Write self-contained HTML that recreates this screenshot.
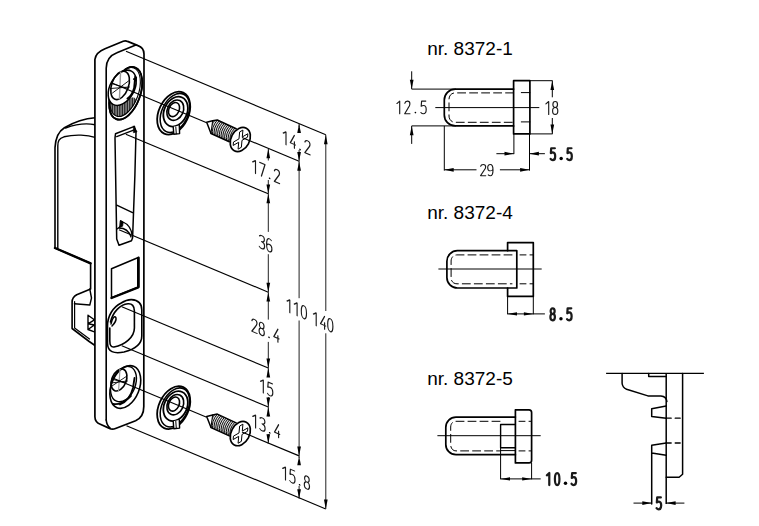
<!DOCTYPE html>
<html><head><meta charset="utf-8"><style>
html,body{margin:0;padding:0;background:#fff;}
svg{display:block;}
.lbl{font-family:"Liberation Sans",sans-serif;font-size:17.5px;fill:#000;}
</style></head><body>
<svg width="759" height="526" viewBox="0 0 759 526">
<rect width="759" height="526" fill="#fff"/>
<path d="M95,117.8 C86,118.4 74,122.2 64.4,127.7 C59,131 55.6,137 55,147.6 L55,248 L90.6,263.3 L90.6,289 L76.7,294.7 C73.5,296.5 72.1,299 72.1,302 L72.1,328.5 L89.2,341.5 L95,345.5" fill="#fff" stroke="#000" stroke-width="1.6" stroke-linejoin="round" stroke-linecap="round" /><path d="M95,124.8 C88,123.3 77,123.8 65.5,128" fill="none" stroke="#000" stroke-width="1.4" stroke-linejoin="round" stroke-linecap="round" /><path d="M95,137.4 C88,135 75,134 64,136.8 C59,138.5 57.8,141 57.8,146 L57.8,248" fill="none" stroke="#000" stroke-width="1.4" stroke-linejoin="round" stroke-linecap="round" /><path d="M55,248 L90.6,263.3" fill="none" stroke="#000" stroke-width="2.4" stroke-linejoin="round" stroke-linecap="round" /><path d="M74.6,301.5 L74.6,328 L89.5,339" fill="none" stroke="#000" stroke-width="1.2" stroke-linejoin="round" stroke-linecap="round" /><path d="M74.4,303.8 L89.8,305 L91.5,298 L89.8,289" fill="none" stroke="#000" stroke-width="1.4" stroke-linejoin="round" stroke-linecap="round" /><path d="M88,315.3 L94.4,319.8 L88,323.8 L94.4,325 L88,329.5 L94.4,331.8 M88,315.3 L88,329.5" fill="none" stroke="#000" stroke-width="1.4" stroke-linejoin="round" stroke-linecap="round" /><path d="M94.9,59.5 L94.9,416.7 C95,420.5 97,423 100.3,424.3 L109.5,428.4 C111.5,429.4 113.5,429.3 115.5,428.5 L135.6,420.7 C140.5,418.5 143.8,413 143.8,406.4 L144,54 C144,50 142,47 138,45.6 L127.6,41.4 C126.3,40.8 124.6,40.7 123.2,41.3 L105,48.8 C99,51.2 95.5,54.5 94.9,59.5 Z" fill="#fff" stroke="#000" stroke-width="1.7" stroke-linejoin="round" stroke-linecap="round" /><path d="M106.2,420 L106.2,68.2 C106.3,62 108.5,56 116.9,52.8 L135.8,45.0" fill="none" stroke="#000" stroke-width="1.6" stroke-linejoin="round" stroke-linecap="round" /><path d="M106.2,420 C106.6,424 108,426.5 110,427.8" fill="none" stroke="#000" stroke-width="1.6" stroke-linejoin="round" stroke-linecap="round" /><ellipse cx="125.7" cy="93.3" rx="14.5" ry="27.5" transform="rotate(20 125.7 93.3)" fill="#fff" stroke="#000" stroke-width="1.7" /><clipPath id="hu0"><ellipse cx="125.7" cy="93.3" rx="14.5" ry="27.5" transform="rotate(20 125.7 93.3)"/></clipPath><clipPath id="hu1"><polygon points="100,99 134,97.5 141,104 141,130 100,130"/></clipPath><clipPath id="hu2"><ellipse cx="125.1" cy="92.0" rx="13.3" ry="25.6" transform="rotate(20 125.1 92.0)"/></clipPath><g clip-path="url(#hu2)"><g clip-path="url(#hu1)"><rect x="105" y="70" width="40" height="55" fill="#8a8a8a"/><line x1="109.8" y1="70" x2="109.8" y2="125" stroke="#000" stroke-width="0.9"/><line x1="112.3" y1="70" x2="112.3" y2="125" stroke="#000" stroke-width="0.9"/><line x1="114.8" y1="70" x2="114.8" y2="125" stroke="#000" stroke-width="0.9"/><line x1="117.3" y1="70" x2="117.3" y2="125" stroke="#000" stroke-width="0.9"/><line x1="119.8" y1="70" x2="119.8" y2="125" stroke="#000" stroke-width="0.9"/><line x1="122.3" y1="70" x2="122.3" y2="125" stroke="#000" stroke-width="0.9"/><line x1="124.8" y1="70" x2="124.8" y2="125" stroke="#000" stroke-width="0.9"/><line x1="127.3" y1="70" x2="127.3" y2="125" stroke="#000" stroke-width="0.9"/><line x1="129.8" y1="70" x2="129.8" y2="125" stroke="#000" stroke-width="0.9"/><line x1="132.3" y1="70" x2="132.3" y2="125" stroke="#000" stroke-width="0.9"/><line x1="134.8" y1="70" x2="134.8" y2="125" stroke="#000" stroke-width="0.9"/><line x1="137.3" y1="70" x2="137.3" y2="125" stroke="#000" stroke-width="0.9"/><line x1="139.8" y1="70" x2="139.8" y2="125" stroke="#000" stroke-width="0.9"/><line x1="142.3" y1="70" x2="142.3" y2="125" stroke="#000" stroke-width="0.9"/></g></g><ellipse cx="125.7" cy="93.3" rx="14.5" ry="27.5" transform="rotate(20 125.7 93.3)" fill="none" stroke="#000" stroke-width="1.7" /><ellipse cx="125.1" cy="92.0" rx="13.3" ry="25.6" transform="rotate(20 125.1 92.0)" fill="none" stroke="#000" stroke-width="1.1" /><ellipse cx="122.2" cy="87.8" rx="12.1" ry="19.0" transform="rotate(29 122.2 87.8)" fill="#fff" stroke="#000" stroke-width="1.5" /><ellipse cx="120.1" cy="85.35" rx="8.4" ry="14.85" transform="rotate(20 120.1 85.35)" fill="none" stroke="#000" stroke-width="1.6" /><line x1="120.6" y1="71.5" x2="119.4" y2="99.5" stroke="#999" stroke-width="1.4"/><path d="M111.5,83.5 L128,88.5 M112.5,93 L128.5,81 M110.5,88.5 L129.5,87" fill="none" stroke="#000" stroke-width="0.9" stroke-linejoin="round" stroke-linecap="round" /><path d="M135.3,76.5 L134.2,88 C132.5,94 130,97 127.5,98.5" fill="none" stroke="#000" stroke-width="2.0" stroke-linejoin="round" stroke-linecap="round" /><path d="M133.5,79 L136.5,77.5 L136,81 Z" fill="#000" stroke="#000" stroke-width="1.2" stroke-linejoin="round" stroke-linecap="round" /><path d="M115.5,133.8 L134.4,126.4 L136,132.1 L134.9,175 L132.6,237.8 L131.5,240.7 L119,245.2 L116.7,239 L115,137.8 Z" fill="none" stroke="#000" stroke-width="1.5" stroke-linejoin="round" stroke-linecap="round" /><path d="M116.7,136.7 L135.5,129.3" fill="none" stroke="#000" stroke-width="1.3" stroke-linejoin="round" stroke-linecap="round" /><path d="M133.6,126.2 L137,131.8 L133.8,132.6 Z" fill="#000" stroke="#000" stroke-width="0.8" stroke-linejoin="round" stroke-linecap="round" /><path d="M116.7,205.2 L132.6,212.6" fill="none" stroke="#000" stroke-width="1.4" stroke-linejoin="round" stroke-linecap="round" /><path d="M117,229 L121,226 L120.7,220.7 L123,222 C128,224 131.5,229 132.3,236 M119,228 C124,228 129,231 131,237" fill="none" stroke="#000" stroke-width="1.3" stroke-linejoin="round" stroke-linecap="round" /><path d="M120.6,220.8 L123.2,222.3 L122.6,226.2 L119.8,227.2 Z" fill="#000" stroke="#000" stroke-width="0.8" stroke-linejoin="round" stroke-linecap="round" /><path d="M111.5,268.7 L138.9,257.3 L138.9,287 L111.5,297.8 Z" fill="none" stroke="#000" stroke-width="1.5" stroke-linejoin="round" stroke-linecap="round" /><path d="M138.2,258 L138.2,287.3 L111.5,298" fill="none" stroke="#000" stroke-width="2.4" stroke-linejoin="round" stroke-linecap="round" /><path d="M121.2,303 C125,300.5 128.5,299.5 131.5,299.6 C137.5,300 141.8,303 141.8,310 L141.8,336 C141.8,343 136,349 124,352 C114,354 107.5,352 107.5,343 L107.5,326 C107.5,316 113,307 121.2,303 Z" fill="none" stroke="#000" stroke-width="1.6" stroke-linejoin="round" stroke-linecap="round" /><path d="M110.5,322 C113,312 120,304.5 128,303.8 C132,303.5 134.4,306 134.4,311 L134.4,328 C134.4,337 125,345 114,347 C111,347.5 109.8,345 109.8,341 L109.8,328" fill="none" stroke="#000" stroke-width="1.6" stroke-linejoin="round" stroke-linecap="round" /><path d="M111,324 C112,318 115,315 116,318 C116.5,321 114,324 112,326" fill="none" stroke="#000" stroke-width="1.5" stroke-linejoin="round" stroke-linecap="round" /><ellipse cx="125.3" cy="387" rx="14.0" ry="22.3" transform="rotate(22 125.3 387)" fill="none" stroke="#000" stroke-width="1.6" /><ellipse cx="123.5" cy="384" rx="11.8" ry="18.5" transform="rotate(22 123.5 384)" fill="none" stroke="#000" stroke-width="1.4" /><ellipse cx="119" cy="380" rx="7.2" ry="11.5" transform="rotate(22 119 380)" fill="none" stroke="#000" stroke-width="1.6" /><line x1="120" y1="369" x2="118.5" y2="391" stroke="#999" stroke-width="1.2"/><path d="M111.5,379 L126,383 M112,386 L127,376 M110.8,383 L127.5,381" fill="none" stroke="#000" stroke-width="0.9" stroke-linejoin="round" stroke-linecap="round" /><path d="M134.5,378 L133,388 C131,396 126,402 120,404.5 M113.5,404 C118,405 126,402 131,396" fill="none" stroke="#000" stroke-width="1.8" stroke-linejoin="round" stroke-linecap="round" />
<ellipse cx="173.7" cy="113.15" rx="14.9" ry="22.6" transform="rotate(25 173.7 113.15)" fill="#fff" stroke="#000" stroke-width="1.8" /><ellipse cx="174.9" cy="112.9" rx="13.1" ry="20.6" transform="rotate(25 174.9 112.9)" fill="none" stroke="#000" stroke-width="1.5" /><ellipse cx="175.6" cy="111.6" rx="11.4" ry="15.6" transform="rotate(25 175.6 111.6)" fill="none" stroke="#000" stroke-width="1.8" /><ellipse cx="175.3" cy="110.2" rx="7.9" ry="10.6" transform="rotate(25 175.3 110.2)" fill="none" stroke="#000" stroke-width="1.6" /><ellipse cx="174.0" cy="109.6" rx="5.1" ry="7.4" transform="rotate(25 174.0 109.6)" fill="none" stroke="#000" stroke-width="1.6" /><path d="M173.2,126.8 L173.8,134.2 L179.6,133.6 L179.3,125.4" fill="#fff" stroke="#000" stroke-width="1.4" stroke-linejoin="round" stroke-linecap="round" /><path d="M175.8,126.8 L176.3,133.8" fill="none" stroke="#000" stroke-width="1.0" stroke-linejoin="round" stroke-linecap="round" /><ellipse cx="173.7" cy="407.65" rx="14.9" ry="22.6" transform="rotate(25 173.7 407.65)" fill="#fff" stroke="#000" stroke-width="1.8" /><ellipse cx="174.9" cy="407.4" rx="13.1" ry="20.6" transform="rotate(25 174.9 407.4)" fill="none" stroke="#000" stroke-width="1.5" /><ellipse cx="175.6" cy="406.1" rx="11.4" ry="15.6" transform="rotate(25 175.6 406.1)" fill="none" stroke="#000" stroke-width="1.8" /><ellipse cx="175.3" cy="404.7" rx="7.9" ry="10.6" transform="rotate(25 175.3 404.7)" fill="none" stroke="#000" stroke-width="1.6" /><ellipse cx="174.0" cy="404.1" rx="5.1" ry="7.4" transform="rotate(25 174.0 404.1)" fill="none" stroke="#000" stroke-width="1.6" /><path d="M173.2,421.3 L173.8,428.7 L179.6,428.1 L179.3,419.9" fill="#fff" stroke="#000" stroke-width="1.4" stroke-linejoin="round" stroke-linecap="round" /><path d="M175.8,421.3 L176.3,428.3" fill="none" stroke="#000" stroke-width="1.0" stroke-linejoin="round" stroke-linecap="round" /><clipPath id="th0"><path d="M212.6,120.8 L217.3,120.0 L236.2,128.8 L229.3,141.8 L211,133.5 Z"/></clipPath><g clip-path="url(#th0)"><rect x="200" y="110" width="45" height="40" fill="#e0e0e0"/><path d="M216.00,118.70 Q209.00,126.60 211.00,134.50" fill="none" stroke="#000" stroke-width="0.95"/><path d="M217.75,119.51 Q210.75,127.38 212.75,135.25" fill="none" stroke="#000" stroke-width="0.95"/><path d="M219.50,120.31 Q212.50,128.16 214.50,136.00" fill="none" stroke="#000" stroke-width="0.95"/><path d="M221.25,121.12 Q214.25,128.94 216.25,136.76" fill="none" stroke="#000" stroke-width="0.95"/><path d="M223.00,121.92 Q216.00,129.72 218.00,137.51" fill="none" stroke="#000" stroke-width="0.95"/><path d="M224.75,122.73 Q217.75,130.49 219.75,138.26" fill="none" stroke="#000" stroke-width="0.95"/><path d="M226.50,123.53 Q219.50,131.27 221.50,139.01" fill="none" stroke="#000" stroke-width="0.95"/><path d="M228.25,124.34 Q221.25,132.05 223.25,139.77" fill="none" stroke="#000" stroke-width="0.95"/><path d="M230.00,125.14 Q223.00,132.83 225.00,140.52" fill="none" stroke="#000" stroke-width="0.95"/><path d="M231.75,125.95 Q224.75,133.61 226.75,141.27" fill="none" stroke="#000" stroke-width="0.95"/><path d="M233.50,126.75 Q226.50,134.39 228.50,142.03" fill="none" stroke="#000" stroke-width="0.95"/><path d="M235.25,127.56 Q228.25,135.17 230.25,142.78" fill="none" stroke="#000" stroke-width="0.95"/></g><path d="M206.7,122.3 L212.6,120.8 L217.3,120.0 L236.2,128.8 M229.3,141.8 L211,133.5 L206.7,122.3" fill="none" stroke="#000" stroke-width="1.5" stroke-linejoin="round" stroke-linecap="round" /><path d="M212.6,120.8 L211,133.5" fill="none" stroke="#000" stroke-width="1.0" stroke-linejoin="round" stroke-linecap="round" /><ellipse cx="240.3" cy="139.5" rx="9.2" ry="12.8" transform="rotate(28 240.3 139.5)" fill="#fff" stroke="#000" stroke-width="1.7" /><g transform="matrix(0.866,-0.5,-0.09,1.0,240.5,139.6)"><path d="M-1.9,-8.6 L1.9,-8.6 L1.9,-1.7 L8.3,-1.7 L8.3,1.7 L1.9,1.7 L1.9,8.6 L-1.9,8.6 L-1.9,1.7 L-8.3,1.7 L-8.3,-1.7 L-1.9,-1.7 Z" fill="none" stroke="#000" stroke-width="1.0" stroke-linejoin="round" vector-effect="non-scaling-stroke"/></g><clipPath id="th294"><path d="M212.6,414.90000000000003 L217.3,414.1 L236.2,422.90000000000003 L229.3,435.90000000000003 L211,427.6 Z"/></clipPath><g clip-path="url(#th294)"><rect x="200" y="404.1" width="45" height="40" fill="#e0e0e0"/><path d="M216.00,412.80 Q209.00,420.70 211.00,428.60" fill="none" stroke="#000" stroke-width="0.95"/><path d="M217.75,413.61 Q210.75,421.48 212.75,429.35" fill="none" stroke="#000" stroke-width="0.95"/><path d="M219.50,414.41 Q212.50,422.26 214.50,430.11" fill="none" stroke="#000" stroke-width="0.95"/><path d="M221.25,415.22 Q214.25,423.04 216.25,430.86" fill="none" stroke="#000" stroke-width="0.95"/><path d="M223.00,416.02 Q216.00,423.82 218.00,431.61" fill="none" stroke="#000" stroke-width="0.95"/><path d="M224.75,416.83 Q217.75,424.59 219.75,432.36" fill="none" stroke="#000" stroke-width="0.95"/><path d="M226.50,417.63 Q219.50,425.37 221.50,433.12" fill="none" stroke="#000" stroke-width="0.95"/><path d="M228.25,418.44 Q221.25,426.15 223.25,433.87" fill="none" stroke="#000" stroke-width="0.95"/><path d="M230.00,419.24 Q223.00,426.93 225.00,434.62" fill="none" stroke="#000" stroke-width="0.95"/><path d="M231.75,420.05 Q224.75,427.71 226.75,435.37" fill="none" stroke="#000" stroke-width="0.95"/><path d="M233.50,420.85 Q226.50,428.49 228.50,436.12" fill="none" stroke="#000" stroke-width="0.95"/><path d="M235.25,421.66 Q228.25,429.27 230.25,436.88" fill="none" stroke="#000" stroke-width="0.95"/></g><path d="M206.7,416.40000000000003 L212.6,414.90000000000003 L217.3,414.1 L236.2,422.90000000000003 M229.3,435.90000000000003 L211,427.6 L206.7,416.40000000000003" fill="none" stroke="#000" stroke-width="1.5" stroke-linejoin="round" stroke-linecap="round" /><path d="M212.6,414.90000000000003 L211,427.6" fill="none" stroke="#000" stroke-width="1.0" stroke-linejoin="round" stroke-linecap="round" /><ellipse cx="240.3" cy="433.6" rx="9.2" ry="12.8" transform="rotate(28 240.3 433.6)" fill="#fff" stroke="#000" stroke-width="1.7" /><g transform="matrix(0.866,-0.5,-0.09,1.0,240.5,433.70000000000005)"><path d="M-1.9,-8.6 L1.9,-8.6 L1.9,-1.7 L8.3,-1.7 L8.3,1.7 L1.9,1.7 L1.9,8.6 L-1.9,8.6 L-1.9,1.7 L-8.3,1.7 L-8.3,-1.7 L-1.9,-1.7 Z" fill="none" stroke="#000" stroke-width="1.0" stroke-linejoin="round" vector-effect="non-scaling-stroke"/></g>
<line x1="126.00" y1="51.28" x2="325.80" y2="134.80" stroke="#000" stroke-width="1.15" /><line x1="112.00" y1="83.09" x2="206.70" y2="122.68" stroke="#000" stroke-width="1.15" /><line x1="242.00" y1="137.43" x2="299.10" y2="161.30" stroke="#000" stroke-width="1.15" /><line x1="125.80" y1="134.24" x2="268.30" y2="193.80" stroke="#000" stroke-width="1.15" /><line x1="119.00" y1="229.79" x2="268.30" y2="292.20" stroke="#000" stroke-width="1.15" /><line x1="121.80" y1="306.76" x2="268.30" y2="368.00" stroke="#000" stroke-width="1.15" /><line x1="121.80" y1="345.76" x2="268.30" y2="407.00" stroke="#000" stroke-width="1.15" /><line x1="112.00" y1="377.69" x2="206.70" y2="417.28" stroke="#000" stroke-width="1.15" /><line x1="242.00" y1="432.03" x2="299.10" y2="455.90" stroke="#000" stroke-width="1.15" /><line x1="126.50" y1="425.69" x2="325.80" y2="509.00" stroke="#000" stroke-width="1.15" /><line x1="268.30" y1="149.00" x2="268.30" y2="160.50" stroke="#222" stroke-width="1.0" /><line x1="268.30" y1="180.00" x2="268.30" y2="231.90" stroke="#222" stroke-width="1.0" /><line x1="268.30" y1="254.20" x2="268.30" y2="319.60" stroke="#222" stroke-width="1.0" /><line x1="268.30" y1="341.90" x2="268.30" y2="377.00" stroke="#222" stroke-width="1.0" /><line x1="268.30" y1="397.00" x2="268.30" y2="416.40" stroke="#222" stroke-width="1.0" /><line x1="268.30" y1="434.00" x2="268.30" y2="444.00" stroke="#222" stroke-width="1.0" /><line x1="299.10" y1="123.70" x2="299.10" y2="127.00" stroke="#222" stroke-width="1.0" /><line x1="299.10" y1="150.00" x2="299.10" y2="298.20" stroke="#222" stroke-width="1.0" /><line x1="299.10" y1="320.50" x2="299.10" y2="458.00" stroke="#222" stroke-width="1.0" /><line x1="299.10" y1="486.00" x2="299.10" y2="498.70" stroke="#222" stroke-width="1.0" /><line x1="325.80" y1="134.80" x2="325.80" y2="311.00" stroke="#222" stroke-width="1.0" /><line x1="325.80" y1="333.30" x2="325.80" y2="509.00" stroke="#222" stroke-width="1.0" /><polygon points="299.10,123.70 297.25,133.10 300.95,133.10" fill="#000" stroke="none"/><polygon points="299.10,161.30 297.25,151.90 300.95,151.90" fill="#000" stroke="none"/><polygon points="268.30,148.80 266.45,158.20 270.15,158.20" fill="#000" stroke="none"/><polygon points="268.30,193.80 266.45,184.40 270.15,184.40" fill="#000" stroke="none"/><polygon points="268.30,193.80 266.45,203.20 270.15,203.20" fill="#000" stroke="none"/><polygon points="268.30,292.20 266.45,282.80 270.15,282.80" fill="#000" stroke="none"/><polygon points="268.30,292.20 266.45,301.60 270.15,301.60" fill="#000" stroke="none"/><polygon points="268.30,368.00 266.45,358.60 270.15,358.60" fill="#000" stroke="none"/><polygon points="268.30,368.00 266.45,377.40 270.15,377.40" fill="#000" stroke="none"/><polygon points="268.30,407.00 266.45,397.60 270.15,397.60" fill="#000" stroke="none"/><polygon points="268.30,407.00 266.45,416.40 270.15,416.40" fill="#000" stroke="none"/><polygon points="268.30,443.60 266.45,434.20 270.15,434.20" fill="#000" stroke="none"/><polygon points="299.10,161.30 297.25,170.70 300.95,170.70" fill="#000" stroke="none"/><polygon points="299.10,455.90 297.25,446.50 300.95,446.50" fill="#000" stroke="none"/><polygon points="299.10,455.90 297.25,465.30 300.95,465.30" fill="#000" stroke="none"/><polygon points="299.10,498.70 297.25,489.30 300.95,489.30" fill="#000" stroke="none"/><polygon points="325.80,134.80 323.95,144.20 327.65,144.20" fill="#000" stroke="none"/><polygon points="325.80,509.00 323.95,499.60 327.65,499.60" fill="#000" stroke="none"/><g transform="translate(282.8,130.5) skewY(22.685) scale(1.0,0.95)" fill="none" stroke="#1a1a1a" stroke-width="1.15" stroke-linecap="round" stroke-linejoin="round" vector-effect="non-scaling-stroke"><path d="M0.4,2.6 L3.2,0 L3.2,13.6" transform="translate(0.00,0)"/><path d="M4.3,0 L0.2,9.6 L5.4,9.6 M4.3,6.8 L4.3,13.6" transform="translate(7.30,0)"/><circle cx="17.30" cy="12.39" r="0.85" fill="#000" stroke="none"/><path d="M0.2,2.4 C0.5,0.8 1.5,0 2.8,0 C4.4,0 5.3,1.2 5.3,3 C5.3,4.6 4.6,5.8 3.4,7.6 L0.1,13.6 L5.4,13.6" transform="translate(21.90,0)"/></g><g transform="translate(252.3,159.3) skewY(22.685) scale(1.0,0.95)" fill="none" stroke="#1a1a1a" stroke-width="1.15" stroke-linecap="round" stroke-linejoin="round" vector-effect="non-scaling-stroke"><path d="M0.4,2.6 L3.2,0 L3.2,13.6" transform="translate(0.00,0)"/><path d="M0.1,0 L5.4,0 L1.8,13.6" transform="translate(7.30,0)"/><circle cx="17.30" cy="12.39" r="0.85" fill="#000" stroke="none"/><path d="M0.2,2.4 C0.5,0.8 1.5,0 2.8,0 C4.4,0 5.3,1.2 5.3,3 C5.3,4.6 4.6,5.8 3.4,7.6 L0.1,13.6 L5.4,13.6" transform="translate(21.90,0)"/></g><g transform="translate(259.2,234.6) skewY(22.685) scale(1.0,0.95)" fill="none" stroke="#1a1a1a" stroke-width="1.15" stroke-linecap="round" stroke-linejoin="round" vector-effect="non-scaling-stroke"><path d="M0.3,1.2 C0.9,0.4 1.8,0 2.8,0 C4.3,0 5.2,1.2 5.2,3.2 C5.2,5.2 4.2,6.3 2.4,6.3 C4.4,6.3 5.4,7.6 5.4,9.8 C5.4,12.2 4.3,13.6 2.6,13.6 C1.6,13.6 0.7,13.1 0.1,12.3" transform="translate(0.00,0)"/><path d="M4.8,1 C4.3,0.3 3.6,0 2.8,0 C1.0,0 0.1,2.5 0.1,7 C0.1,11.6 1.1,13.6 2.8,13.6 C4.5,13.6 5.4,12 5.4,9.6 C5.4,7.2 4.4,5.8 2.8,5.8 C1.6,5.8 0.6,6.6 0.1,8" transform="translate(7.30,0)"/></g><g transform="translate(286.6,298.5) skewY(22.685) scale(1.0,0.95)" fill="none" stroke="#1a1a1a" stroke-width="1.15" stroke-linecap="round" stroke-linejoin="round" vector-effect="non-scaling-stroke"><path d="M0.4,2.6 L3.2,0 L3.2,13.6" transform="translate(0.00,0)"/><path d="M0.4,2.6 L3.2,0 L3.2,13.6" transform="translate(7.30,0)"/><path d="M2.7,0 C1.0,0 0.1,2.4 0.1,6.8 C0.1,11.2 1.0,13.6 2.7,13.6 C4.4,13.6 5.3,11.2 5.3,6.8 C5.3,2.4 4.4,0 2.7,0 Z" transform="translate(14.60,0)"/></g><g transform="translate(313.0,311.5) skewY(22.685) scale(1.0,0.95)" fill="none" stroke="#1a1a1a" stroke-width="1.15" stroke-linecap="round" stroke-linejoin="round" vector-effect="non-scaling-stroke"><path d="M0.4,2.6 L3.2,0 L3.2,13.6" transform="translate(0.00,0)"/><path d="M4.3,0 L0.2,9.6 L5.4,9.6 M4.3,6.8 L4.3,13.6" transform="translate(7.30,0)"/><path d="M2.7,0 C1.0,0 0.1,2.4 0.1,6.8 C0.1,11.2 1.0,13.6 2.7,13.6 C4.4,13.6 5.3,11.2 5.3,6.8 C5.3,2.4 4.4,0 2.7,0 Z" transform="translate(14.60,0)"/></g><g transform="translate(251.7,318.3) skewY(22.685) scale(1.0,0.95)" fill="none" stroke="#1a1a1a" stroke-width="1.15" stroke-linecap="round" stroke-linejoin="round" vector-effect="non-scaling-stroke"><path d="M0.2,2.4 C0.5,0.8 1.5,0 2.8,0 C4.4,0 5.3,1.2 5.3,3 C5.3,4.6 4.6,5.8 3.4,7.6 L0.1,13.6 L5.4,13.6" transform="translate(0.00,0)"/><path d="M2.7,6.3 C1.2,6.3 0.4,5 0.4,3.1 C0.4,1.2 1.3,0 2.7,0 C4.1,0 5.0,1.2 5.0,3.1 C5.0,5 4.2,6.3 2.7,6.3 C1.0,6.3 0.1,7.6 0.1,9.9 C0.1,12.3 1.1,13.6 2.7,13.6 C4.3,13.6 5.3,12.3 5.3,9.9 C5.3,7.6 4.4,6.3 2.7,6.3 Z" transform="translate(7.30,0)"/><circle cx="17.30" cy="12.39" r="0.85" fill="#000" stroke="none"/><path d="M4.3,0 L0.2,9.6 L5.4,9.6 M4.3,6.8 L4.3,13.6" transform="translate(21.90,0)"/></g><g transform="translate(260.1,378.7) skewY(22.685) scale(1.0,0.95)" fill="none" stroke="#1a1a1a" stroke-width="1.15" stroke-linecap="round" stroke-linejoin="round" vector-effect="non-scaling-stroke"><path d="M0.4,2.6 L3.2,0 L3.2,13.6" transform="translate(0.00,0)"/><path d="M5.0,0 L0.8,0 L0.4,5.6 C1.0,5.0 1.9,4.7 2.8,4.7 C4.4,4.7 5.4,6.2 5.4,9 C5.4,12 4.3,13.6 2.6,13.6 C1.6,13.6 0.7,13.1 0.1,12.2" transform="translate(7.30,0)"/></g><g transform="translate(252.4,413.8) skewY(22.685) scale(1.0,0.95)" fill="none" stroke="#1a1a1a" stroke-width="1.15" stroke-linecap="round" stroke-linejoin="round" vector-effect="non-scaling-stroke"><path d="M0.4,2.6 L3.2,0 L3.2,13.6" transform="translate(0.00,0)"/><path d="M0.3,1.2 C0.9,0.4 1.8,0 2.8,0 C4.3,0 5.2,1.2 5.2,3.2 C5.2,5.2 4.2,6.3 2.4,6.3 C4.4,6.3 5.4,7.6 5.4,9.8 C5.4,12.2 4.3,13.6 2.6,13.6 C1.6,13.6 0.7,13.1 0.1,12.3" transform="translate(7.30,0)"/><circle cx="17.30" cy="12.39" r="0.85" fill="#000" stroke="none"/><path d="M4.3,0 L0.2,9.6 L5.4,9.6 M4.3,6.8 L4.3,13.6" transform="translate(21.90,0)"/></g><g transform="translate(282.3,465.8) skewY(22.685) scale(1.0,0.95)" fill="none" stroke="#1a1a1a" stroke-width="1.15" stroke-linecap="round" stroke-linejoin="round" vector-effect="non-scaling-stroke"><path d="M0.4,2.6 L3.2,0 L3.2,13.6" transform="translate(0.00,0)"/><path d="M5.0,0 L0.8,0 L0.4,5.6 C1.0,5.0 1.9,4.7 2.8,4.7 C4.4,4.7 5.4,6.2 5.4,9 C5.4,12 4.3,13.6 2.6,13.6 C1.6,13.6 0.7,13.1 0.1,12.2" transform="translate(7.30,0)"/><circle cx="17.30" cy="12.39" r="0.85" fill="#000" stroke="none"/><path d="M2.7,6.3 C1.2,6.3 0.4,5 0.4,3.1 C0.4,1.2 1.3,0 2.7,0 C4.1,0 5.0,1.2 5.0,3.1 C5.0,5 4.2,6.3 2.7,6.3 C1.0,6.3 0.1,7.6 0.1,9.9 C0.1,12.3 1.1,13.6 2.7,13.6 C4.3,13.6 5.3,12.3 5.3,9.9 C5.3,7.6 4.4,6.3 2.7,6.3 Z" transform="translate(21.90,0)"/></g>
<text class="lbl" x="427.2" y="54.8" textLength="85.6" lengthAdjust="spacingAndGlyphs">nr. 8372-1</text><text class="lbl" x="427.2" y="218.7" textLength="85.6" lengthAdjust="spacingAndGlyphs">nr. 8372-4</text><text class="lbl" x="427.2" y="384.8" textLength="85.6" lengthAdjust="spacingAndGlyphs">nr. 8372-5</text><path d="M513.6,89.1 L455.3,89.1 C449,89.1 444.3,94 444.3,100 L444.3,115 C444.3,121 449,125.9 455.3,125.9 L513.6,125.9" fill="none" stroke="#000" stroke-width="1.7" stroke-linejoin="round" stroke-linecap="round" /><path d="M513.6,80.7 L529.9,80.7 L529.9,133.9 L513.6,133.9 Z" fill="none" stroke="#000" stroke-width="1.7" stroke-linejoin="round" stroke-linecap="round" /><path d="M513.6,92.9 L455,92.9 C451.5,92.9 449,95.5 449,99 L449,116 C449,119.5 451.5,122.3 455,122.3 L513.6,122.3" fill="none" stroke="#000" stroke-width="1.0" stroke-linejoin="round" stroke-linecap="round" stroke-dasharray="8,4" stroke-linecap="butt"/><path d="M521.3,92.6 L529.9,92.6 M521.3,121.9 L529.9,121.9" fill="none" stroke="#000" stroke-width="1.0" stroke-linejoin="round" stroke-linecap="round" /><line x1="435.30" y1="107.60" x2="539.30" y2="107.60" stroke="#000" stroke-width="1.0" /><line x1="411.70" y1="89.10" x2="456.00" y2="89.10" stroke="#000" stroke-width="1.0" /><line x1="411.70" y1="125.90" x2="456.00" y2="125.90" stroke="#000" stroke-width="1.0" /><line x1="411.70" y1="71.30" x2="411.70" y2="89.10" stroke="#000" stroke-width="1.0" /><line x1="411.70" y1="125.90" x2="411.70" y2="143.90" stroke="#000" stroke-width="1.0" /><polygon points="411.70,89.10 409.85,79.70 413.55,79.70" fill="#000" stroke="none"/><polygon points="411.70,125.90 409.85,135.30 413.55,135.30" fill="#000" stroke="none"/><g transform="translate(396.5,101.1) scale(1.0,0.93)" fill="none" stroke="#1a1a1a" stroke-width="1.15" stroke-linecap="round" stroke-linejoin="round" vector-effect="non-scaling-stroke"><path d="M0.4,2.6 L3.2,0 L3.2,13.6" transform="translate(0.00,0)"/><path d="M0.2,2.4 C0.5,0.8 1.5,0 2.8,0 C4.4,0 5.3,1.2 5.3,3 C5.3,4.6 4.6,5.8 3.4,7.6 L0.1,13.6 L5.4,13.6" transform="translate(8.10,0)"/><circle cx="18.90" cy="12.39" r="0.85" fill="#000" stroke="none"/><path d="M5.0,0 L0.8,0 L0.4,5.6 C1.0,5.0 1.9,4.7 2.8,4.7 C4.4,4.7 5.4,6.2 5.4,9 C5.4,12 4.3,13.6 2.6,13.6 C1.6,13.6 0.7,13.1 0.1,12.2" transform="translate(24.30,0)"/></g><line x1="529.90" y1="80.70" x2="552.60" y2="80.70" stroke="#000" stroke-width="1.0" /><line x1="529.90" y1="133.90" x2="552.60" y2="133.90" stroke="#000" stroke-width="1.0" /><line x1="552.30" y1="80.70" x2="552.30" y2="97.30" stroke="#000" stroke-width="1.0" /><line x1="552.30" y1="118.00" x2="552.30" y2="133.90" stroke="#000" stroke-width="1.0" /><polygon points="552.30,80.70 550.45,90.10 554.15,90.10" fill="#000" stroke="none"/><polygon points="552.30,133.90 550.45,124.50 554.15,124.50" fill="#000" stroke="none"/><g transform="translate(545.5,101.5) scale(1.0,0.95)" fill="none" stroke="#1a1a1a" stroke-width="1.15" stroke-linecap="round" stroke-linejoin="round" vector-effect="non-scaling-stroke"><path d="M0.4,2.6 L3.2,0 L3.2,13.6" transform="translate(0.00,0)"/><path d="M2.7,6.3 C1.2,6.3 0.4,5 0.4,3.1 C0.4,1.2 1.3,0 2.7,0 C4.1,0 5.0,1.2 5.0,3.1 C5.0,5 4.2,6.3 2.7,6.3 C1.0,6.3 0.1,7.6 0.1,9.9 C0.1,12.3 1.1,13.6 2.7,13.6 C4.3,13.6 5.3,12.3 5.3,9.9 C5.3,7.6 4.4,6.3 2.7,6.3 Z" transform="translate(7.00,0)"/></g><line x1="444.30" y1="125.90" x2="444.30" y2="170.60" stroke="#000" stroke-width="1.0" /><line x1="529.50" y1="133.90" x2="529.50" y2="170.60" stroke="#000" stroke-width="1.0" /><line x1="513.90" y1="133.90" x2="513.90" y2="154.10" stroke="#000" stroke-width="1.0" /><line x1="444.30" y1="169.80" x2="476.50" y2="169.80" stroke="#000" stroke-width="1.0" /><line x1="499.90" y1="169.80" x2="529.50" y2="169.80" stroke="#000" stroke-width="1.0" /><polygon points="444.30,169.80 453.70,167.95 453.70,171.65" fill="#000" stroke="none"/><polygon points="529.50,169.80 520.10,167.95 520.10,171.65" fill="#000" stroke="none"/><g transform="translate(480.4,164.4) scale(1.0,0.83)" fill="none" stroke="#1a1a1a" stroke-width="1.15" stroke-linecap="round" stroke-linejoin="round" vector-effect="non-scaling-stroke"><path d="M0.2,2.4 C0.5,0.8 1.5,0 2.8,0 C4.4,0 5.3,1.2 5.3,3 C5.3,4.6 4.6,5.8 3.4,7.6 L0.1,13.6 L5.4,13.6" transform="translate(0.00,0)"/><path d="M0.6,12.6 C1.1,13.3 1.8,13.6 2.6,13.6 C4.4,13.6 5.3,11.1 5.3,6.6 C5.3,2 4.3,0 2.6,0 C0.9,0 0,1.6 0,4 C0,6.4 1,7.8 2.6,7.8 C3.8,7.8 4.8,7 5.3,5.6" transform="translate(7.30,0)"/></g><line x1="496.40" y1="153.70" x2="513.90" y2="153.70" stroke="#000" stroke-width="1.0" /><line x1="529.50" y1="153.70" x2="544.90" y2="153.70" stroke="#000" stroke-width="1.0" /><polygon points="513.90,153.70 504.50,151.85 504.50,155.55" fill="#000" stroke="none"/><polygon points="529.50,153.70 538.90,151.85 538.90,155.55" fill="#000" stroke="none"/><g transform="translate(550.5,148.25) scale(0.87,0.88)" fill="none" stroke="#1a1a1a" stroke-width="2.55" stroke-linecap="round" stroke-linejoin="round" vector-effect="non-scaling-stroke"><path d="M5.0,0 L0.8,0 L0.4,5.6 C1.0,5.0 1.9,4.7 2.8,4.7 C4.4,4.7 5.4,6.2 5.4,9 C5.4,12 4.3,13.6 2.6,13.6 C1.6,13.6 0.7,13.1 0.1,12.2" transform="translate(0.00,0)"/><circle cx="12.26" cy="11.70" r="2.0" fill="#000" stroke="none"/><path d="M5.0,0 L0.8,0 L0.4,5.6 C1.0,5.0 1.9,4.7 2.8,4.7 C4.4,4.7 5.4,6.2 5.4,9 C5.4,12 4.3,13.6 2.6,13.6 C1.6,13.6 0.7,13.1 0.1,12.2" transform="translate(19.12,0)"/></g><path d="M516.8,250.7 L457.4,250.7 C451.5,250.7 446.9,255.5 446.9,261.2 L446.9,277.5 C446.9,283.2 451.5,288 457.4,288 L516.8,288 L516.8,250.7" fill="none" stroke="#000" stroke-width="1.7" stroke-linejoin="round" stroke-linecap="round" /><path d="M507.6,250.7 L507.6,242.6 L533.3,242.6 L533.3,296.4 L507.6,296.4 L507.6,288" fill="none" stroke="#000" stroke-width="1.7" stroke-linejoin="round" stroke-linecap="round" /><path d="M512,254.9 L457,254.9 C453.5,254.9 451.1,257.5 451.1,261 L451.1,278 C451.1,281.5 453.5,283.8 457,283.8 L512,283.8" fill="none" stroke="#000" stroke-width="1.0" stroke-linejoin="round" stroke-linecap="round" stroke-dasharray="8,4" stroke-linecap="butt"/><path d="M520,254.9 L533.3,254.9 M520,283.8 L533.3,283.8" fill="none" stroke="#000" stroke-width="1.0" stroke-linejoin="round" stroke-linecap="round" stroke-dasharray="6,4"/><line x1="438.40" y1="269.00" x2="541.70" y2="269.00" stroke="#000" stroke-width="1.0" /><line x1="507.60" y1="296.40" x2="507.60" y2="314.30" stroke="#000" stroke-width="1.0" /><line x1="533.30" y1="296.40" x2="533.30" y2="314.30" stroke="#000" stroke-width="1.0" /><line x1="507.60" y1="313.90" x2="544.90" y2="313.90" stroke="#000" stroke-width="1.0" /><polygon points="507.60,313.90 517.00,312.25 517.00,315.55" fill="#000" stroke="none"/><polygon points="533.30,313.90 523.90,312.25 523.90,315.55" fill="#000" stroke="none"/><g transform="translate(550.3,308.35) scale(0.87,0.88)" fill="none" stroke="#1a1a1a" stroke-width="2.55" stroke-linecap="round" stroke-linejoin="round" vector-effect="non-scaling-stroke"><path d="M2.7,6.3 C1.2,6.3 0.4,5 0.4,3.1 C0.4,1.2 1.3,0 2.7,0 C4.1,0 5.0,1.2 5.0,3.1 C5.0,5 4.2,6.3 2.7,6.3 C1.0,6.3 0.1,7.6 0.1,9.9 C0.1,12.3 1.1,13.6 2.7,13.6 C4.3,13.6 5.3,12.3 5.3,9.9 C5.3,7.6 4.4,6.3 2.7,6.3 Z" transform="translate(0.00,0)"/><circle cx="12.26" cy="11.70" r="2.0" fill="#000" stroke="none"/><path d="M5.0,0 L0.8,0 L0.4,5.6 C1.0,5.0 1.9,4.7 2.8,4.7 C4.4,4.7 5.4,6.2 5.4,9 C5.4,12 4.3,13.6 2.6,13.6 C1.6,13.6 0.7,13.1 0.1,12.2" transform="translate(19.12,0)"/></g><path d="M515.4,417.1 L456,417.1 C450.3,417.1 445.8,421.7 445.8,427.4 L445.8,444.4 C445.8,450.1 450.3,454.7 456,454.7 L515.4,454.7" fill="none" stroke="#000" stroke-width="1.7" stroke-linejoin="round" stroke-linecap="round" /><path d="M515.4,409.8 L529,409.8 C530.6,409.8 531.6,411 531.6,412.5 L531.6,460.2 C531.6,461.8 530.6,462.9 529,462.9 L515.4,462.9 Z" fill="none" stroke="#000" stroke-width="1.7" stroke-linejoin="round" stroke-linecap="round" /><path d="M515.4,424.5 L500.6,424.5 L500.6,447.7 L515.4,447.7" fill="none" stroke="#000" stroke-width="1.4" stroke-linejoin="round" stroke-linecap="round" /><path d="M500.6,450.6 L515.4,450.6" fill="none" stroke="#000" stroke-width="1.0" stroke-linejoin="round" stroke-linecap="round" /><path d="M500,421.3 L456,421.3 C452.8,421.3 450.7,423.6 450.7,427 L450.7,445 C450.7,448.3 452.8,450.9 456,450.9 L500,450.9" fill="none" stroke="#000" stroke-width="1.0" stroke-linejoin="round" stroke-linecap="round" stroke-dasharray="8,4" stroke-linecap="butt"/><path d="M519,421.3 L531.6,421.3 M519,450.9 L531.6,450.9" fill="none" stroke="#000" stroke-width="1.0" stroke-linejoin="round" stroke-linecap="round" stroke-dasharray="6,4"/><line x1="437.40" y1="435.70" x2="540.70" y2="435.70" stroke="#000" stroke-width="1.0" /><line x1="500.60" y1="447.70" x2="500.60" y2="479.30" stroke="#000" stroke-width="1.0" /><line x1="531.60" y1="462.90" x2="531.60" y2="479.30" stroke="#000" stroke-width="1.0" /><line x1="500.60" y1="478.90" x2="540.70" y2="478.90" stroke="#000" stroke-width="1.0" /><polygon points="500.60,478.90 510.00,477.25 510.00,480.55" fill="#000" stroke="none"/><polygon points="531.60,478.90 522.20,477.25 522.20,480.55" fill="#000" stroke="none"/><g transform="translate(546.5,473.05) scale(0.87,0.88)" fill="none" stroke="#1a1a1a" stroke-width="2.55" stroke-linecap="round" stroke-linejoin="round" vector-effect="non-scaling-stroke"><path d="M0.4,2.6 L3.2,0 L3.2,13.6" transform="translate(0.00,0)"/><path d="M2.7,0 C1.0,0 0.1,2.4 0.1,6.8 C0.1,11.2 1.0,13.6 2.7,13.6 C4.4,13.6 5.3,11.2 5.3,6.8 C5.3,2.4 4.4,0 2.7,0 Z" transform="translate(9.56,0)"/><circle cx="21.82" cy="11.70" r="2.0" fill="#000" stroke="none"/><path d="M5.0,0 L0.8,0 L0.4,5.6 C1.0,5.0 1.9,4.7 2.8,4.7 C4.4,4.7 5.4,6.2 5.4,9 C5.4,12 4.3,13.6 2.6,13.6 C1.6,13.6 0.7,13.1 0.1,12.2" transform="translate(28.68,0)"/></g><line x1="606.10" y1="373.40" x2="703.90" y2="373.40" stroke="#000" stroke-width="1.4" /><path d="M622.1,373.4 L622.1,383.3 C622.3,386 624,388.3 626.6,389.3 L647.9,395.9 L660.9,395.9 C664.5,396.2 666.6,398.5 666.9,401.5" fill="none" stroke="#000" stroke-width="1.5" stroke-linejoin="round" stroke-linecap="round" /><path d="M648.7,373.4 L648.7,376.4 L666.2,376.4" fill="none" stroke="#000" stroke-width="1.5" stroke-linejoin="round" stroke-linecap="round" /><line x1="666.20" y1="373.40" x2="666.20" y2="503.90" stroke="#000" stroke-width="1.5" /><path d="M682.6,373.4 L682.6,474.2 L679.1,477.3 L666.2,477.3" fill="none" stroke="#000" stroke-width="1.5" stroke-linejoin="round" stroke-linecap="round" /><path d="M666.2,406.1 L651.7,408.8 L651.7,416.4 L666.2,418.2" fill="none" stroke="#000" stroke-width="1.5" stroke-linejoin="round" stroke-linecap="round" /><path d="M666.2,443 L651.7,445.3 L651.7,503.9 M651.7,452.9 L666.2,455.2" fill="none" stroke="#000" stroke-width="1.5" stroke-linejoin="round" stroke-linecap="round" /><path d="M666.2,418.2 L682.6,418.2 M666.2,443 L682.6,443" fill="none" stroke="#000" stroke-width="1.3" stroke-linejoin="round" stroke-linecap="round" stroke-dasharray="5,4"/><line x1="633.50" y1="503.10" x2="651.70" y2="503.10" stroke="#000" stroke-width="1.0" /><line x1="666.20" y1="503.10" x2="684.40" y2="503.10" stroke="#000" stroke-width="1.0" /><polygon points="651.70,503.10 642.30,501.25 642.30,504.95" fill="#000" stroke="none"/><polygon points="666.20,503.10 675.60,501.25 675.60,504.95" fill="#000" stroke="none"/><g transform="translate(656.5,497.45) scale(0.87,0.88)" fill="none" stroke="#1a1a1a" stroke-width="2.55" stroke-linecap="round" stroke-linejoin="round" vector-effect="non-scaling-stroke"><path d="M5.0,0 L0.8,0 L0.4,5.6 C1.0,5.0 1.9,4.7 2.8,4.7 C4.4,4.7 5.4,6.2 5.4,9 C5.4,12 4.3,13.6 2.6,13.6 C1.6,13.6 0.7,13.1 0.1,12.2" transform="translate(0.00,0)"/></g>
</svg></body></html>
